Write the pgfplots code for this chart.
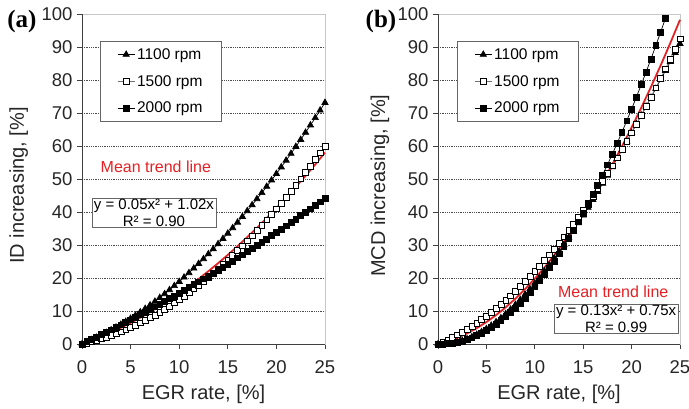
\documentclass[border=0pt]{standalone}
\usepackage{fontspec}
\setmainfont{Liberation Sans}
\newfontfamily\serifbold{Liberation Serif}
\usepackage{pgfplots}
\pgfplotsset{compat=1.18}
\definecolor{trend}{RGB}{228,32,36}

\pgfplotsset{
  egr/.style={
    scale only axis, height=330pt,
    xmin=0,xmax=25,ymin=0,ymax=100,
    xtick={0,5,...,25}, ytick={0,10,...,100},
    tick pos=left, tick align=outside, major tick length=5pt,
    every tick/.style={black!75, line width=0.8pt},
    axis line style={black!22, line width=0.8pt},
    /pgf/number format/assume math mode=true,
    ticklabel style={font=\fontsize{18.5}{18.5}\selectfont, text=black!85},
    xticklabel style={yshift=-8pt},
    yticklabel style={xshift=-1pt},
    extra y ticks={10,20,...,90},
    extra y tick labels={},
    extra y tick style={grid=major, major tick length=0pt},
    major grid style={black!70, line width=0.7pt, dash pattern=on 1pt off 0.8pt},
    clip=false,
    legend style={draw=black!60, line width=0.6pt, font=\fontsize{15.5}{15.5}\selectfont,
      anchor=north west, row sep=10.5pt, inner xsep=17pt, inner ysep=5pt},
    legend cell align=left,
    every axis x label/.style={at={(axis description cs:0.5,-0.152)}, anchor=center,
      font=\fontsize{20}{20}\selectfont, text=black!85},
    every axis y label/.style={at={(axis description cs:-0.26,0.48)}, rotate=90, anchor=center,
      font=\fontsize{20}{20}\selectfont, text=black!85},
    xlabel={EGR rate, [\%]},
  },
  sA/.style={black, line width=0.7pt, mark=triangle*, mark size=3.6pt, mark options={solid, fill=black, draw=black}},
  sB/.style={black!55, line width=0.7pt, mark=square*, mark size=2.9pt, mark options={solid, fill=white, draw=black, line width=0.55pt}},
  sC/.style={black, line width=0.7pt, mark=square*, mark size=2.9pt, mark options={solid, fill=black, draw=black}},
  sR/.style={trend, line width=1.8pt, no marks},
}

\begin{document}
\begin{tikzpicture}
% ---------------- panel (a) ----------------
\begin{axis}[egr, width=243pt, at={(82pt,-344pt)}, anchor=south west,
  ylabel={ID increasing, [\%]},
  legend style={at={(rel axis cs:0.074,0.918)}},
  legend entries={1100 rpm,1500 rpm,2000 rpm}]
\addplot[sA] coordinates {
(0,0) (0.5,0.62) (1,1.27) (1.5,1.96) (2,2.68) (2.5,3.43) (3,4.22) (3.5,5.05) (4,5.90) (4.5,6.80)
(5,7.73) (5.5,8.69) (6,9.68) (6.5,10.72) (7,11.78) (7.5,12.88) (8,14.02) (8.5,15.19) (9,16.39) (9.5,17.63)
(10,18.9) (10.5,20.21) (11,21.55) (11.5,22.93) (12,24.34) (12.5,25.78) (13,27.26) (13.5,28.78) (14,30.32) (14.5,31.91)
(15,33.53) (15.5,35.18) (16,36.86) (16.5,38.59) (17,40.34) (17.5,42.13) (18,43.96) (18.5,45.82) (19,47.71) (19.5,49.64)
(20,51.6) (20.5,53.60) (21,55.63) (21.5,57.70) (22,59.80) (22.5,61.93) (23,64.10) (23.5,66.31) (24,68.54) (24.5,70.82)
(25,73.13)};
\addplot[sB] coordinates {
(0,0) (0.5,0.34) (1,0.72) (1.5,1.13) (2,1.58) (2.5,2.06) (3,2.58) (3.5,3.13) (4,3.72) (4.5,4.34)
(5,5.0) (5.5,5.69) (6,6.42) (6.5,7.18) (7,7.98) (7.5,8.81) (8,9.68) (8.5,10.58) (9,11.52) (9.5,12.49)
(10,13.5) (10.5,14.54) (11,15.62) (11.5,16.73) (12,17.88) (12.5,19.06) (13,20.28) (13.5,21.53) (14,22.82) (14.5,24.14)
(15,25.5) (15.5,26.89) (16,28.32) (16.5,29.78) (17,31.28) (17.5,32.81) (18,34.38) (18.5,35.98) (19,37.62) (19.5,39.29)
(20,41.0) (20.5,42.74) (21,44.52) (21.5,46.33) (22,48.18) (22.5,50.06) (23,51.98) (23.5,53.93) (24,55.92) (24.5,57.94)
(25,60.0)};
\addplot[sC] coordinates {
(0,0) (0.5,0.70) (1,1.41) (1.5,2.12) (2,2.84) (2.5,3.57) (3,4.31) (3.5,5.05) (4,5.80) (4.5,6.56)
(5,7.33) (5.5,8.10) (6,8.88) (6.5,9.67) (7,10.47) (7.5,11.27) (8,12.08) (8.5,12.90) (9,13.73) (9.5,14.56)
(10,15.4) (10.5,16.25) (11,17.11) (11.5,17.97) (12,18.84) (12.5,19.72) (13,20.61) (13.5,21.50) (14,22.40) (14.5,23.31)
(15,24.23) (15.5,25.15) (16,26.08) (16.5,27.02) (17,27.97) (17.5,28.92) (18,29.88) (18.5,30.85) (19,31.83) (19.5,32.81)
(20,33.8) (20.5,34.80) (21,35.81) (21.5,36.82) (22,37.84) (22.5,38.87) (23,39.91) (23.5,40.95) (24,42.0) (24.5,43.06)
(25,44.13)};
\addplot[sR, forget plot] coordinates {
(0,0) (1,1.07) (2,2.25) (3,3.53) (4,4.91) (5,6.4) (6,7.99) (7,9.69) (8,11.49) (9,13.39)
(10,15.4) (11,17.51) (12,19.73) (13,22.05) (14,24.47) (15,27.0) (16,29.63) (17,32.37) (18,35.21) (19,38.15)
(20,41.2) (21,44.35) (22,47.61) (23,50.97) (24,54.43) (25,58.0)};
\draw[black!75, line width=0.8pt] (rel axis cs:0,1) -- (rel axis cs:0,0) -- (rel axis cs:1,0);
\node[text=trend, font=\fontsize{16}{16}\selectfont] at (axis cs:7.6,53.8) {Mean trend line};
\node[draw=black!60, line width=0.6pt, fill=white, align=center, font=\fontsize{15}{16.5}\selectfont,
  inner xsep=2pt, inner ysep=1pt] at (axis cs:7.4,39.8) {y = 0.05x² + 1.02x\\R² = 0.90};
\end{axis}
% ---------------- panel (b) ----------------
\begin{axis}[egr, width=242pt, at={(438pt,-344pt)}, anchor=south west,
  ylabel={MCD increasing, [\%]},
  every axis y label/.append style={at={(axis description cs:-0.24,0.48)}},
  legend style={at={(rel axis cs:0.079,0.918)}},
  legend entries={1100 rpm,1500 rpm,2000 rpm}]
\addplot[sA] coordinates {
(0,0) (0.5,0) (1,0.07) (1.5,0.27) (2,0.58) (2.5,1.0) (3,1.52) (3.5,2.14) (4,2.87) (4.5,3.69)
(5,4.6) (5.5,5.61) (6,6.70) (6.5,7.88) (7,9.15) (7.5,10.5) (8,11.93) (8.5,13.44) (9,15.02) (9.5,16.67)
(10,18.4) (10.5,20.19) (11,22.05) (11.5,23.98) (12,25.96) (12.5,28.0) (13,30.10) (13.5,32.25) (14,34.45) (14.5,36.70)
(15,39.0) (15.5,41.34) (16,43.72) (16.5,46.15) (17,48.61) (17.5,51.1) (18,53.63) (18.5,56.18) (19,58.76) (19.5,61.37)
(20,64.0) (20.5,66.65) (21,69.32) (21.5,72.0) (22,74.69) (22.5,77.4) (23,80.11) (23.5,82.83) (24,85.56) (24.5,88.28)
(25,91.0)};
\addplot[sB] coordinates {
(0,0) (0.5,0.63) (1,1.3) (1.5,2.03) (2,2.8) (2.5,3.63) (3,4.5) (3.5,5.43) (4,6.4) (4.5,7.43)
(5,8.5) (5.5,9.63) (6,10.8) (6.5,12.03) (7,13.3) (7.5,14.63) (8,16.0) (8.5,17.43) (9,18.9) (9.5,20.43)
(10,22.0) (10.5,23.63) (11,25.3) (11.5,27.03) (12,28.8) (12.5,30.63) (13,32.5) (13.5,34.43) (14,36.4) (14.5,38.43)
(15,40.5) (15.5,42.63) (16,44.8) (16.5,47.03) (17,49.3) (17.5,51.63) (18,54.0) (18.5,56.43) (19,58.9) (19.5,61.43)
(20,64.0) (20.5,66.63) (21,69.3) (21.5,72.03) (22,74.8) (22.5,77.63) (23,80.5) (23.5,83.43) (24,86.4) (24.5,89.43)
(25,92.5)};
\addplot[sC] coordinates {
(0,0) (0.5,0) (1,0.08) (1.5,0.26) (2,0.53) (2.5,0.89) (3,1.35) (3.5,1.89) (4,2.53) (4.5,3.26)
(5,4.08) (5.5,4.99) (6,5.99) (6.5,7.08) (7,8.27) (7.5,9.54) (8,10.91) (8.5,12.37) (9,13.92) (9.5,15.57)
(10,17.3) (10.5,19.13) (11,21.04) (11.5,23.05) (12,25.15) (12.5,27.34) (13,29.63) (13.5,32.0) (14,34.47) (14.5,37.03)
(15,39.68) (15.5,42.42) (16,45.25) (16.5,48.17) (17,51.19) (17.5,54.29) (18,57.49) (18.5,60.78) (19,64.16) (19.5,67.64)
(20,71.2) (20.5,74.86) (21,78.6) (21.5,82.44) (22,86.37) (22.5,90.39) (23,94.51) (23.5,98.71)};
\addplot[sR, forget plot] coordinates {
(0,0) (1,0.81) (2,1.88) (3,3.21) (4,4.8) (5,6.65) (6,8.76) (7,11.13) (8,13.76) (9,16.65)
(10,19.8) (11,23.21) (12,26.88) (13,30.81) (14,35.0) (15,39.45) (16,44.16) (17,49.13) (18,54.36) (19,59.85)
(20,65.6) (21,71.61) (22,77.88) (23,84.41) (24,91.2) (25,98.25)};
\draw[black!75, line width=0.8pt] (rel axis cs:0,1) -- (rel axis cs:0,0) -- (rel axis cs:1,0);
\node[text=trend, font=\fontsize{16}{16}\selectfont] at (axis cs:18.1,15.8) {Mean trend line};
\node[draw=black!60, line width=0.6pt, fill=white, align=center, font=\fontsize{15}{16.5}\selectfont,
  inner xsep=2pt, inner ysep=1pt] at (axis cs:18.4,7.7) {y = 0.13x² + 0.75x\\R² = 0.99};
\end{axis}
\node[font=\serifbold\bfseries\fontsize{25}{25}\selectfont] at (22pt,-21.5pt) {(a)};
\node[font=\serifbold\bfseries\fontsize{25}{25}\selectfont] at (381pt,-21.5pt) {(b)};
\pgfresetboundingbox
\path (0,0) rectangle (689pt,-408pt);
\end{tikzpicture}
\end{document}
